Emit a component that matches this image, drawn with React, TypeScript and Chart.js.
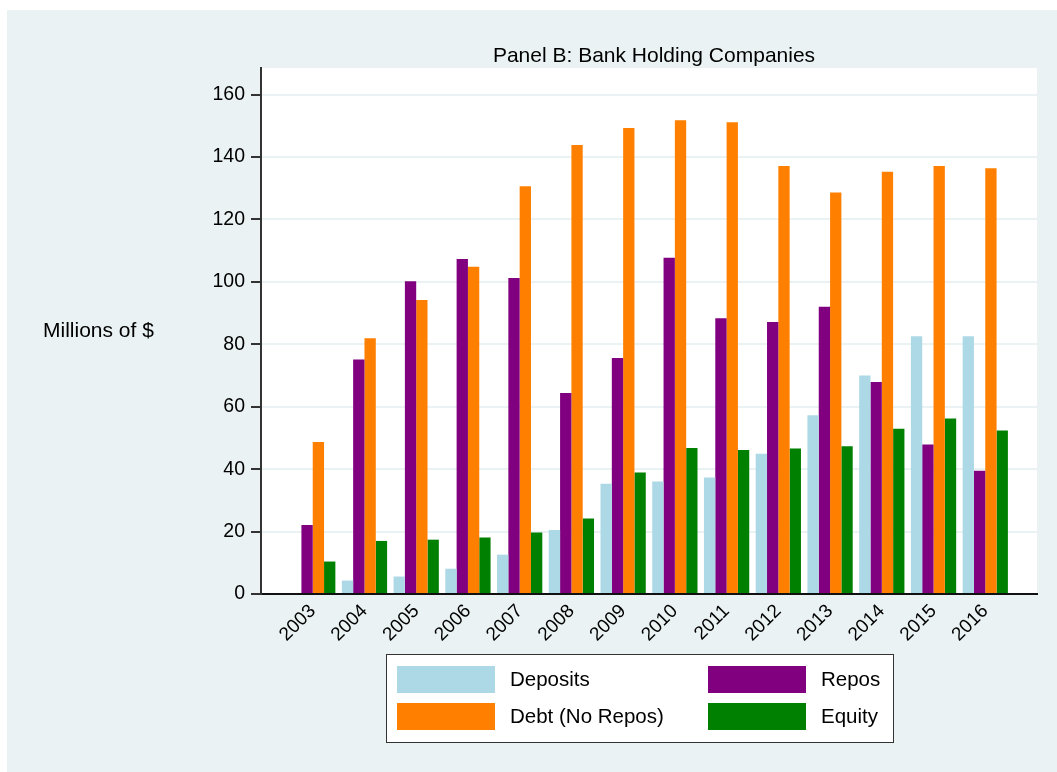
import React, { useEffect, useRef } from "react";
import { Chart, registerables } from "chart.js";

Chart.register(...registerables);

// Years on the category axis
const years = [2003, 2004, 2005, 2006, 2007, 2008, 2009, 2010, 2011, 2012, 2013, 2014, 2015, 2016];

// Funding sources of bank holding companies, millions of $
const deposits = [null, 4.3, 5.6, 8.1, 12.6, 20.5, 35.3, 36.0, 37.3, 44.9, 57.3, 70.0, 82.6, 82.6];
const repos = [22.1, 75.1, 100.2, 107.3, 101.2, 64.4, 75.6, 107.7, 88.3, 87.1, 92.0, 67.9, 47.9, 39.5];
const debtNoRepos = [48.7, 81.9, 94.2, 104.8, 130.6, 143.8, 149.3, 151.8, 151.1, 137.1, 128.6, 135.3, 137.1, 136.4];
const equity = [10.4, 17.0, 17.4, 18.1, 19.7, 24.2, 38.9, 46.8, 46.1, 46.6, 47.3, 52.9, 56.2, 52.4];

const yTicks = [0, 20, 40, 60, 80, 100, 120, 140, 160];

const TITLE = "Panel B: Bank Holding Companies";
const Y_TITLE = "Millions of $";

const FONT = '"Liberation Sans", Arial, Helvetica, sans-serif';
const BG = "#EAF2F3";

// Draws the panel background, white plot region, title, y title and a two-column legend.
const stataFrame = {
  id: "stataFrame",
  beforeDraw(chart: any) {
    const { ctx, chartArea, width, height } = chart;
    ctx.save();
    ctx.fillStyle = BG;
    ctx.fillRect(0, 0, width, height);
    ctx.fillStyle = "#ffffff";
    ctx.fillRect(chartArea.left, chartArea.top, chartArea.right - chartArea.left, chartArea.bottom - chartArea.top);
    ctx.restore();
  },
  afterDraw(chart: any) {
    const { ctx, chartArea } = chart;
    ctx.save();
    ctx.fillStyle = "#000";

    // title above the plot
    ctx.font = `21px ${FONT}`;
    ctx.textAlign = "center";
    ctx.textBaseline = "alphabetic";
    ctx.fillText(TITLE, (chartArea.left + chartArea.right) / 2 + 5, chartArea.top - 6);

    // horizontal y-axis title
    ctx.textAlign = "left";
    ctx.textBaseline = "middle";
    ctx.fillText(Y_TITLE, 36, (chartArea.top + chartArea.bottom) / 2);

    // legend box
    const bx = 379, by = 644, bw = 507, bh = 88;
    ctx.fillStyle = "#fff";
    ctx.fillRect(bx, by, bw, bh);
    ctx.strokeStyle = "#333";
    ctx.lineWidth = 1;
    ctx.strokeRect(bx + 0.5, by + 0.5, bw, bh);

    const order = [0, 1, 2, 3];
    const colX = [390, 701];
    const rowY = [656, 693];
    ctx.font = `20.5px ${FONT}`;
    ctx.textBaseline = "middle";
    ctx.textAlign = "left";
    order.forEach((di, k) => {
      const ds = chart.data.datasets[di];
      const cx = colX[k % 2];
      const ry = rowY[Math.floor(k / 2)];
      ctx.fillStyle = ds.backgroundColor;
      ctx.fillRect(cx, ry, 98, 27);
      ctx.fillStyle = "#000";
      ctx.fillText(ds.label, cx + 113, ry + 14);
    });
    ctx.restore();
  },
};

export default function App() {
  const canvasRef = useRef<HTMLCanvasElement | null>(null);

  useEffect(() => {
    if (!canvasRef.current) return;
    const chart = new Chart(canvasRef.current, {
      type: "bar",
      data: {
        labels: years,
        datasets: [
          { label: "Deposits", data: deposits, backgroundColor: "#ADD8E6" },
          { label: "Repos", data: repos, backgroundColor: "#800080" },
          { label: "Debt (No Repos)", data: debtNoRepos, backgroundColor: "#FF8000" },
          { label: "Equity", data: equity, backgroundColor: "#008000" },
        ],
      },
      options: {
        animation: false,
        responsive: false,
        maintainAspectRatio: false,
        devicePixelRatio: 1,
        layout: { padding: { top: 58, right: 20, left: 0, bottom: 0 } },
        datasets: {
          bar: { categoryPercentage: 0.875, barPercentage: 1, borderWidth: 0 },
        },
        plugins: {
          legend: { display: false },
          title: { display: false },
          tooltip: { enabled: false },
        },
        scales: {
          x: {
            type: "linear",
            offset: false,
            min: years[0] - 1,
            max: years[years.length - 1] + 1,
            grid: { display: false, drawTicks: false, offset: false },
            border: { display: true, color: "#111", width: 2 },
            afterBuildTicks: (scale: any) => {
              scale.ticks = years.map((v) => ({ value: v }));
            },
            ticks: {
              autoSkip: false,
              minRotation: 45,
              maxRotation: 45,
              padding: 6,
              color: "#000",
              font: { family: FONT, size: 19 },
              callback: (v: any) => String(v),
            },
            afterFit: (scale: any) => {
              scale.height = 178;
            },
          },
          y: {
            min: 0,
            max: 168.5,
            grid: { color: BG, lineWidth: 2, tickColor: "#333", tickLength: 10, drawTicks: true },
            border: { display: true, color: "#333", width: 2 },
            afterBuildTicks: (scale: any) => {
              scale.ticks = yTicks.map((v) => ({ value: v }));
            },
            ticks: {
              padding: 6,
              color: "#000",
              font: { family: FONT, size: 19.5 },
              callback: (v: any) => String(v),
            },
            afterFit: (scale: any) => {
              scale.width = 254;
            },
          },
        },
      },
      plugins: [stataFrame],
    });
    return () => chart.destroy();
  }, []);

  return (
    <div style={{ position: "absolute", left: 7, top: 10, width: 1050, height: 762, background: BG }}>
      <canvas ref={canvasRef} width={1050} height={762} style={{ display: "block", width: 1050, height: 762 }} />
    </div>
  );
}
